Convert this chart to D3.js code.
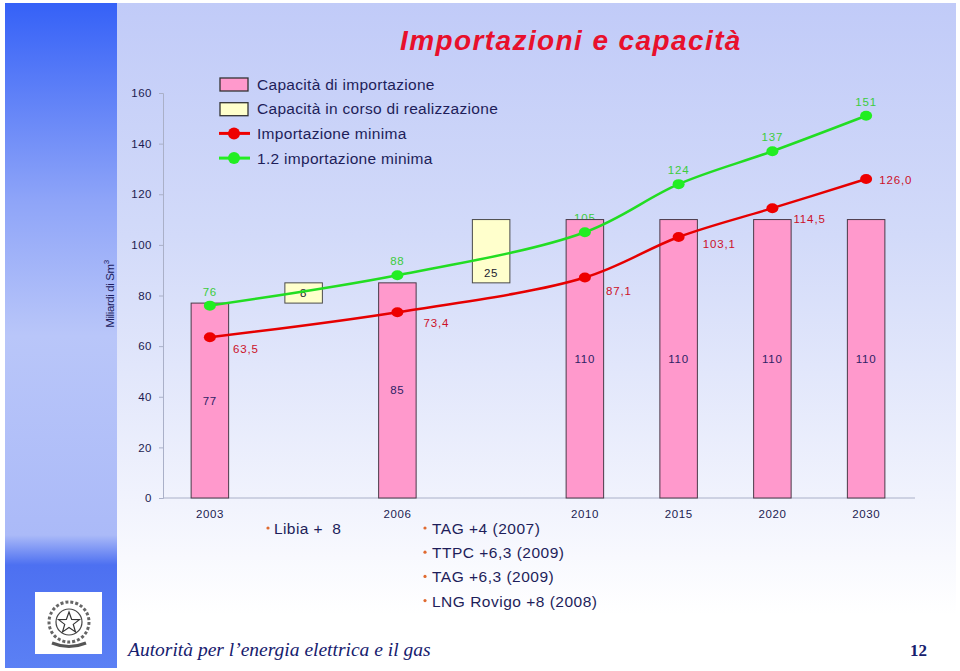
<!DOCTYPE html>
<html><head><meta charset="utf-8">
<script src="https://cdn.jsdelivr.net/npm/d3@7"></script>
<style>
html,body{margin:0;padding:0;background:#fff;}
svg{display:block;}
text{font-family:"Liberation Sans",Arial,sans-serif;}
</style></head>
<body>
<svg id="c" width="960" height="671"></svg>
<script>
// ---- data ----
const categories = ["2003","2003-2006","2006","2006-2010","2010","2015","2020","2030"];
const tickLabels = ["2003","","2006","","2010","2015","2020","2030"];
const capacity = [77,null,85,null,110,110,110,110];          // Capacità di importazione
const inProgressBase = [null,77,null,85,null,null,null,null]; // base of boxes
const inProgress = [null,8,null,25,null,null,null,null];      // Capacità in corso di realizzazione
const importMin = [63.5,null,73.4,null,87.1,103.1,114.5,126.0];
const importMin12 = [76,null,88,null,105,124,137,151];
const yTicks = [0,20,40,60,80,100,120,140,160];
const legendItems = ["Capacità di importazione","Capacità in corso di realizzazione","Importazione minima","1.2 importazione minima"];
const notesLeft = ["Libia +  8"];
const notesRight = ["TAG +4 (2007)","TTPC +6,3 (2009)","TAG +6,3 (2009)","LNG Rovigo +8 (2008)"];
const title = "Importazioni e capacità";
const footer = "Autorità per l\u2019energia elettrica e il gas";
const pageNo = "12";

// label offsets for red series (layout)
const redLabelOffsets = [[23,16],null,[26,15],null,[21,17],[24,11],[21,15],[13,5]];

const svg = d3.select("#c");
const defs = svg.append("defs");
const g1 = defs.append("linearGradient").attr("id","strip").attr("x1",0).attr("y1",0).attr("x2",0).attr("y2",1);
[[0,"#3561f7"],[0.3,"#8fa5f8"],[0.5,"#b9c6f9"],[0.8,"#abbaf8"],[0.845,"#4d70f1"],[1,"#5b80f4"]].forEach(s=>g1.append("stop").attr("offset",s[0]).attr("stop-color",s[1]));
const g2 = defs.append("linearGradient").attr("id","panel").attr("x1",0).attr("y1",0).attr("x2",0).attr("y2",1);
[[0,"#c1cbf8"],[0.35,"#d2daf9"],[0.75,"#f1f3fd"],[0.92,"#ffffff"],[1,"#ffffff"]].forEach(s=>g2.append("stop").attr("offset",s[0]).attr("stop-color",s[1]));

svg.append("rect").attr("x",117).attr("y",3).attr("width",839).attr("height",665).attr("fill","url(#panel)");
svg.append("rect").attr("x",5).attr("y",3).attr("width",112).attr("height",665).attr("fill","url(#strip)");

// emblem
const em = svg.append("g");
em.append("rect").attr("x",35).attr("y",592).attr("width",67).attr("height",62).attr("fill","#fff");
em.append("circle").attr("cx",69).attr("cy",622).attr("r",20).attr("fill","none").attr("stroke","#666").attr("stroke-width",3).attr("stroke-dasharray","3,2");
em.append("circle").attr("cx",69).attr("cy",622).attr("r",13).attr("fill","#fff").attr("stroke","#444").attr("stroke-width",1.2);
const star = d3.range(10).map(i=>{const r=i%2?4.5:11;const a=-Math.PI/2+i*Math.PI/5;return [69+r*Math.cos(a),623+r*Math.sin(a)];});
em.append("polygon").attr("points",star.map(p=>p.join(",")).join(" ")).attr("fill","#fff").attr("stroke","#333").attr("stroke-width",1.2);
em.append("path").attr("d","M52,643 Q69,650 86,643").attr("fill","none").attr("stroke","#555").attr("stroke-width",3);

// scales
const x = d3.scaleBand().domain(categories).range([163,913]).paddingInner(0.6).paddingOuter(0.3);
const y = d3.scaleLinear().domain([0,160]).range([498,93]);
const cx = c => x(c)+x.bandwidth()/2;

// title
svg.append("text").attr("x",400).attr("y",50).attr("fill","#e8102c").attr("font-size",28)
  .attr("font-weight","bold").attr("font-style","italic").attr("letter-spacing","1.4").text(title);

// y axis
const yAxis = svg.append("g").attr("transform","translate(163,0)")
  .call(d3.axisLeft(y).tickValues(yTicks).tickSize(4).tickPadding(7));
yAxis.select(".domain").attr("stroke","#aab0c8");
yAxis.selectAll(".tick line").attr("stroke","#aab0c8");
yAxis.selectAll("text").attr("fill","#1c1c50").attr("font-size",11.5).style("font-family","'Liberation Sans',Arial,sans-serif").attr("letter-spacing","0.5");

// x axis
const xAxis = svg.append("g").attr("transform","translate(0,498)")
  .call(d3.axisBottom(x).tickSize(0).tickPadding(12).tickFormat((d,i)=>tickLabels[i]));
xAxis.select(".domain").attr("stroke","#aab0c8").attr("d","M163,0H915");
xAxis.selectAll("text").attr("fill","#1c1c50").attr("font-size",11.5).style("font-family","'Liberation Sans',Arial,sans-serif").attr("letter-spacing","0.6");

// y label
const yl = svg.append("text").attr("transform","translate(114,294) rotate(-90)").attr("text-anchor","middle")
  .attr("fill","#1c1c60").attr("font-size",11.5).attr("letter-spacing","-0.4");
yl.append("tspan").text("Miliardi di Sm");
yl.append("tspan").attr("dy",-5).attr("font-size",8).text("3");

// green labels (behind bars)
const fmtComma = v => v.toFixed(1).replace(".",",");
const greenPts = categories.map((c,i)=>({c,v:importMin12[i]})).filter(d=>d.v!=null);
const redPts = categories.map((c,i)=>({c,v:importMin[i],i})).filter(d=>d.v!=null);
svg.append("g").selectAll("text").data(greenPts).join("text")
  .attr("x",d=>cx(d.c)).attr("y",d=>y(d.v)-10).attr("text-anchor","middle")
  .attr("fill","#3ccc3c").attr("font-size",11.5).attr("letter-spacing","0.8").text(d=>d.v);

// bars
const barG = svg.append("g");
barG.selectAll("rect.cap").data(categories.map((c,i)=>({c,v:capacity[i]})).filter(d=>d.v!=null)).join("rect")
  .attr("class","cap").attr("x",d=>x(d.c)).attr("width",x.bandwidth())
  .attr("y",d=>y(d.v)).attr("height",d=>y(0)-y(d.v))
  .attr("fill","#ff99cc").attr("stroke","#4a3a48").attr("stroke-width",1);
barG.selectAll("rect.prog").data(categories.map((c,i)=>({c,b:inProgressBase[i],v:inProgress[i]})).filter(d=>d.v!=null)).join("rect")
  .attr("class","prog").attr("x",d=>x(d.c)).attr("width",x.bandwidth())
  .attr("y",d=>y(d.b+d.v)).attr("height",d=>y(d.b)-y(d.b+d.v))
  .attr("fill","#ffffcc").attr("stroke","#4a4a4a").attr("stroke-width",1);

// bar labels
barG.selectAll("text.cap").data(categories.map((c,i)=>({c,v:capacity[i]})).filter(d=>d.v!=null)).join("text")
  .attr("class","cap").attr("x",d=>cx(d.c)).attr("y",d=>y(d.v/2)+4).attr("text-anchor","middle")
  .attr("fill","#2e1f66").attr("font-size",11.5).attr("letter-spacing","0.8").text(d=>d.v);
barG.selectAll("text.prog").data(categories.map((c,i)=>({c,b:inProgressBase[i],v:inProgress[i]})).filter(d=>d.v!=null)).join("text")
  .attr("class","prog").attr("x",d=>cx(d.c)).attr("y",d=>y(d.b)-6).attr("text-anchor","middle")
  .attr("fill","#1c1c30").attr("font-size",11.5).attr("letter-spacing","0.8").text(d=>d.v);

// lines
const line = d3.line().x(d=>cx(d.c)).y(d=>y(d.v)).curve(d3.curveCatmullRom.alpha(0.5));
svg.append("path").attr("d",line(greenPts)).attr("fill","none").attr("stroke","#22dd22").attr("stroke-width",2.5);
svg.append("path").attr("d",line(redPts)).attr("fill","none").attr("stroke","#e60000").attr("stroke-width",2.5);
svg.append("g").selectAll("ellipse").data(greenPts).join("ellipse")
  .attr("cx",d=>cx(d.c)).attr("cy",d=>y(d.v)).attr("rx",6).attr("ry",5).attr("fill","#22ee22");
svg.append("g").selectAll("ellipse").data(redPts).join("ellipse")
  .attr("cx",d=>cx(d.c)).attr("cy",d=>y(d.v)).attr("rx",6).attr("ry",5).attr("fill","#ee0000");
svg.append("g").selectAll("text").data(redPts).join("text")
  .attr("x",d=>cx(d.c)+redLabelOffsets[d.i][0]).attr("y",d=>y(d.v)+redLabelOffsets[d.i][1])
  .attr("fill","#cc1028").attr("font-size",11.5).attr("letter-spacing","0.9").text(d=>fmtComma(d.v));

// legend
const lg = svg.append("g");
const legStyles = [
  {type:"rect",fill:"#ff99cc"},{type:"rect",fill:"#ffffcc"},
  {type:"line",color:"#ee0000"},{type:"line",color:"#22ee22"}];
legendItems.forEach((t,i)=>{
  const yy = 84 + i*24.7;
  const s = legStyles[i];
  if(s.type==="rect"){
    lg.append("rect").attr("x",220).attr("y",yy-6).attr("width",28).attr("height",13).attr("fill",s.fill).attr("stroke","#333").attr("stroke-width",1.3);
  } else {
    lg.append("line").attr("x1",219).attr("x2",250).attr("y1",yy).attr("y2",yy).attr("stroke",s.color).attr("stroke-width",3);
    lg.append("circle").attr("cx",234).attr("cy",yy).attr("r",6).attr("fill",s.color);
  }
  lg.append("text").attr("x",257).attr("y",yy+5.5).attr("fill","#1e1e5a").attr("font-size",15.5).attr("letter-spacing","0.3").text(t);
});

// notes
const notes = svg.append("g");
notesLeft.forEach((t,i)=>{
  notes.append("circle").attr("cx",268).attr("cy",528+i*24).attr("r",1.6).attr("fill","#e06a30");
  notes.append("text").attr("x",274).attr("y",534+i*24).attr("fill","#1e1e5a").attr("font-size",15.5)
    .attr("letter-spacing","0.4").style("white-space","pre").text(t);
});
notesRight.forEach((t,i)=>{
  notes.append("circle").attr("cx",425).attr("cy",528+i*24.2).attr("r",1.6).attr("fill","#e06a30");
  notes.append("text").attr("x",432).attr("y",534+i*24.2).attr("fill","#1e1e5a").attr("font-size",15.5)
    .attr("letter-spacing","0.5").style("white-space","pre").text(t);
});

// footer
svg.append("text").attr("x",128).attr("y",656).attr("fill","#16206e").attr("font-size",19.5)
  .attr("font-style","italic").style("font-family","'Liberation Serif','Times New Roman',serif").text(footer);
svg.append("text").attr("x",910).attr("y",656).attr("fill","#16206e").attr("font-size",17).attr("font-weight","bold")
  .style("font-family","'Liberation Serif','Times New Roman',serif").text(pageNo);
</script>
</body></html>
